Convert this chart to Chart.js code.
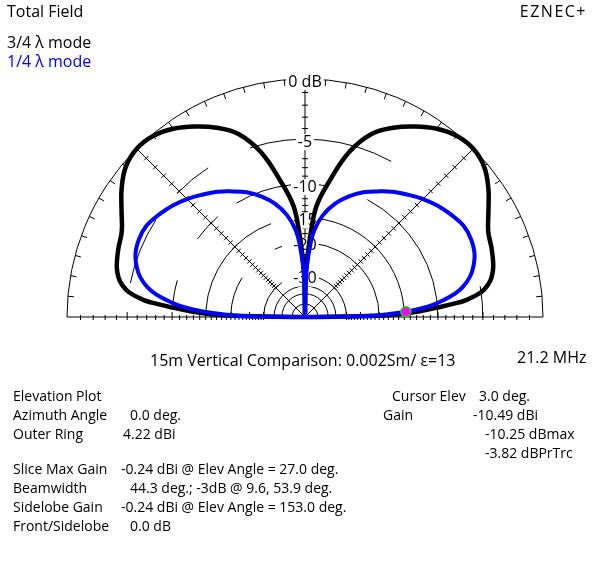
<!DOCTYPE html>
<html>
<head>
<meta charset="utf-8">
<script src="https://cdn.jsdelivr.net/npm/chart.js@4.4.0/dist/chart.umd.min.js"></script>
<style>
  html, body { margin: 0; background: #fff; }
  #wrap { position: relative; width: 611px; height: 569px; font-family: 'Open Sans', sans-serif; color: #000; }
  #wrap canvas { position: absolute; left: 0; top: 0; }
  .t { position: absolute; white-space: pre; line-height: 20px; transform: translateY(-50%); }
  .big { font-size: 16px; }
  .sm { font-size: 14px; }
</style>
</head>
<body>
<div id="wrap">
  <canvas id="plot" width="611" height="569"></canvas>
  <div class="t big" style="left:7px;top:11px">Total Field</div>
  <div class="t big" style="right:24px;top:11px;letter-spacing:1.5px">EZNEC+</div>
  <div class="t big" style="left:7px;top:42px">3/4 λ mode</div>
  <div class="t big" style="left:7px;top:61px;color:#0000ff">1/4 λ mode</div>
  <div class="t big" style="left:150px;top:360px">15m Vertical Comparison: 0.002Sm/ ε=13</div>
  <div class="t big" style="left:517px;top:357px">21.2 MHz</div>

  <div class="t sm" style="left:13px;top:396px">Elevation Plot</div>
  <div class="t sm" style="left:13px;top:415px">Azimuth Angle</div>
  <div class="t sm" style="left:130px;top:415px">0.0 deg.</div>
  <div class="t sm" style="left:13px;top:434px">Outer Ring</div>
  <div class="t sm" style="left:123px;top:434px">4.22 dBi</div>
  <div class="t sm" style="left:13px;top:469px">Slice Max Gain</div>
  <div class="t sm" style="left:121px;top:469px">-0.24 dBi @ Elev Angle = 27.0 deg.</div>
  <div class="t sm" style="left:13px;top:488px">Beamwidth</div>
  <div class="t sm" style="left:130px;top:488px">44.3 deg.; -3dB @ 9.6, 53.9 deg.</div>
  <div class="t sm" style="left:13px;top:507px">Sidelobe Gain</div>
  <div class="t sm" style="left:121px;top:507px">-0.24 dBi @ Elev Angle = 153.0 deg.</div>
  <div class="t sm" style="left:13px;top:526px">Front/Sidelobe</div>
  <div class="t sm" style="left:130px;top:526px">0.0 dB</div>

  <div class="t sm" style="left:392px;top:396px">Cursor Elev</div>
  <div class="t sm" style="left:479px;top:396px">3.0 deg.</div>
  <div class="t sm" style="left:383px;top:415px">Gain</div>
  <div class="t sm" style="left:473px;top:415px">-10.49 dBi</div>
  <div class="t sm" style="left:485px;top:434px">-10.25 dBmax</div>
  <div class="t sm" style="left:485px;top:453px">-3.82 dBPrTrc</div>
</div>
<script>
// elevation angles (deg) and gains in dB relative to the outer ring (4.22 dBi)
const elevAngles = [0, 1, 2, 3, 4, 5, 6, 8, 10, 12, 15, 20, 25, 30, 35, 40, 45, 50, 55, 60,
  65, 70, 75, 80, 84, 86, 88, 89, 90, 91, 92, 94, 96, 100, 105, 110, 115, 120, 125,
  130, 135, 140, 145, 150, 155, 160, 165, 168, 170, 172, 174, 175, 176, 177, 178, 179, 180];

const gain34 = [-99, -20, -14.8, -12.2, -10.2, -8.2, -6.6, -5.0, -4.25, -3.8, -3.43, -3.1, -2.8, -2.0,
  -1.05, -0.3, 0, -0.12, -0.6, -1.35, -2.25, -3.45, -5.7, -9.5, -12.9, -17.5, -25, -31, -99,
  -31, -25, -17.5, -12.9, -9.5, -5.7, -3.45, -2.25, -1.35, -0.6, -0.12, 0, -0.3, -1.05, -2.0,
  -2.8, -3.1, -3.43, -3.8, -4.25, -5.0, -6.6, -8.2, -10.2, -12.2, -14.8, -20, -99];

const gain14 = [-99, -23, -17.8, -14.71, -12.6, -11.1, -10.0, -8.3, -7.1, -6.3, -5.5, -4.75, -4.48, -4.52,
  -4.95, -5.45, -6.1, -6.85, -7.6, -8.5, -9.4, -10.6, -12.1, -14.3, -17.3, -20.9, -27, -33, -99,
  -33, -27, -20.9, -17.3, -14.3, -12.1, -10.6, -9.4, -8.5, -7.6, -6.85, -6.1, -5.45, -4.95, -4.52,
  -4.48, -4.75, -5.5, -6.3, -7.1, -8.3, -10.0, -11.1, -12.6, -14.71, -17.8, -23, -99];

const cursorElev = 3.0;
const cursorGain = -14.71;

// rings: dB value and the angle spans (deg) where each is drawn
const ringDb = [0, -5, -10, -15, -20, -30, -35, -40, -50];
const ringSpans = [
  [[0, 180]],
  [[0, 10], [61, 108], [123, 136], [147, 169]],
  [[0, 62], [80, 86], [96, 121], [131, 144], [164, 174]],
  [[0, 83], [110, 176]],
  [[0, 84], [108, 114], [148, 178]],
  [[0, 75], [124, 180]],
  [[0, 180]],
  [[0, 180]],
  [[0, 180]]
];
const ringLabels = ['0 dB', '-5', '-10', '-15', '-20', '-30'];
const spokeAngles = [45, 90, 135];

// ARRL log scale: radius shrinks by 0.89 every 2 dB
function radius(db) {
  return db <= -99 ? 0 : Math.pow(0.89, -db / 2);
}
function polar(deg, db) {
  const r = radius(db), a = deg * Math.PI / 180;
  return { x: r * Math.cos(a), y: r * Math.sin(a) };
}

const polarGrid = {
  id: 'polarGrid',
  beforeDatasetsDraw(chart) {
    const { ctx, scales: { x, y } } = chart;
    const cx = x.getPixelForValue(0), cy = y.getPixelForValue(0);
    const R = x.getPixelForValue(1) - cx;
    ctx.save();
    ctx.strokeStyle = '#000';
    ctx.lineWidth = 1;

    // ring arcs
    ringDb.forEach((db, i) => {
      const r = radius(db) * R;
      ringSpans[i].forEach(([a0, a1]) => {
        ctx.beginPath();
        ctx.arc(cx, cy, r, -a1 * Math.PI / 180, -a0 * Math.PI / 180);
        ctx.stroke();
      });
    });

    // outer ring ticks every 5 deg
    for (let a = 5; a < 180; a += 5) {
      const t = a * Math.PI / 180;
      ctx.beginPath();
      ctx.moveTo(cx + R * Math.cos(t), cy - R * Math.sin(t));
      ctx.lineTo(cx + (R - 6) * Math.cos(t), cy - (R - 6) * Math.sin(t));
      ctx.stroke();
    }

    // baseline with 1 dB ticks
    ctx.beginPath();
    ctx.moveTo(cx - R, cy);
    ctx.lineTo(cx + R, cy);
    ctx.stroke();
    for (let db = -1; db >= -30; db--) {
      const r = radius(db) * R;
      const up = db % 5 === 0 ? 5 : 2;
      [-1, 1].forEach(s => {
        ctx.beginPath();
        ctx.moveTo(cx + s * r, cy - up);
        ctx.lineTo(cx + s * r, cy + 3);
        ctx.stroke();
      });
    }

    // spokes with 1 dB ticks
    spokeAngles.forEach(a => {
      const t = a * Math.PI / 180, c = Math.cos(t), s = Math.sin(t);
      ctx.beginPath();
      ctx.moveTo(cx, cy);
      ctx.lineTo(cx + R * c, cy - R * s);
      ctx.stroke();
      for (let db = -1; db >= -30; db--) {
        const r = radius(db) * R;
        const px = cx + r * c, py = cy - r * s;
        ctx.beginPath();
        ctx.moveTo(px - 3 * s, py - 3 * c);
        ctx.lineTo(px + 3 * s, py + 3 * c);
        ctx.stroke();
      }
    });

    // ring labels on the vertical axis
    ctx.font = "16px 'Open Sans', sans-serif";
    ctx.textAlign = 'center';
    ctx.textBaseline = 'middle';
    ringLabels.forEach((lab, i) => {
      const ly = cy - radius(ringDb[i]) * R + 3;
      const w = ctx.measureText(lab).width;
      ctx.fillStyle = '#fff';
      ctx.fillRect(cx - w / 2 - 2, ly - 8, w + 4, 16);
      ctx.fillStyle = '#000';
      ctx.fillText(lab, cx, ly);
    });
    ctx.restore();
  }
};

new Chart(document.getElementById('plot'), {
  type: 'scatter',
  data: {
    datasets: [
      {
        label: 'Cursor',
        data: [polar(cursorElev, cursorGain)],
        pointRadius: 5,
        pointBackgroundColor: '#ff00ff',
        pointBorderColor: '#22cc22',
        pointBorderWidth: 1.5,
        showLine: false,
        clip: false,
        order: 0,
      },
      {
        label: '1/4 λ mode',
        data: elevAngles.map((a, i) => polar(a, gain14[i])),
        showLine: true,
        borderColor: '#0000ff',
        borderWidth: 4,
        pointRadius: 0,
        tension: 0.4,
        clip: false,
        order: 1,
      },
      {
        label: '3/4 λ mode',
        data: elevAngles.map((a, i) => polar(a, gain34[i])),
        showLine: true,
        borderColor: '#000',
        borderWidth: 4.5,
        pointRadius: 0,
        tension: 0.4,
        clip: false,
        order: 2,
      }
    ]
  },
  options: {
    responsive: false,
    animation: false,
    layout: { padding: { left: 67, right: 68, top: 79, bottom: 252 } },
    scales: {
      x: { type: 'linear', min: -1, max: 1, display: false },
      y: { type: 'linear', min: 0, max: 1, display: false }
    },
    plugins: {
      legend: { display: false },
      tooltip: { enabled: false }
    }
  },
  plugins: [polarGrid]
});
</script>
</body>
</html>
